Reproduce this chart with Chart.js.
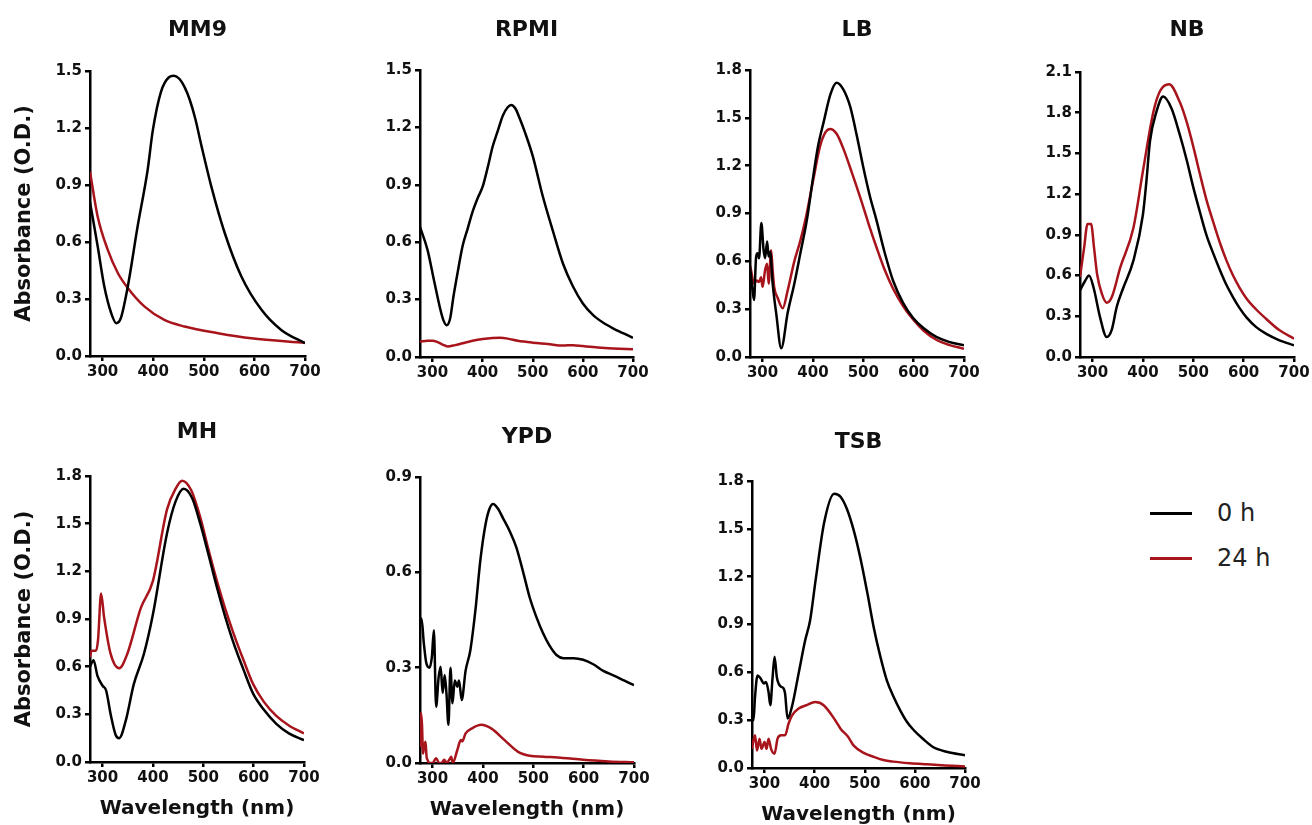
<!DOCTYPE html>
<html>
<head>
<meta charset="utf-8">
<script src="https://cdn.jsdelivr.net/npm/chart.js@4.4.1/dist/chart.umd.min.js"></script>
<style>
  html, body { margin: 0; padding: 0; background: #fff; overflow: hidden; width: 1312px; height: 825px; }
  .panel { position: absolute; }
  .lg { position: absolute; left: 1150px; height: 30px; display: flex; align-items: center;
        font: 24px "DejaVu Sans", sans-serif; color: #222; }
  .lg span { display: inline-block; width: 42px; height: 3px; margin-right: 25px; }
</style>
</head>
<body>
<div class="lg" style="top:498px"><span style="background:#000"></span>0 h</div>
<div class="lg" style="top:543px"><span style="background:#a8141c"></span>24 h</div>
<script>
/* series */
const seriesNames = ["0 h", "24 h"];
const seriesColors = ["#000000", "#a8141c"];
const xTicks = [300, 400, 500, 600, 700];

/* MM9 */
const mm9Wl0 = [275,290,303,317,327,336,350,369,389,399,415,431,441,452,462,472,483,495,515,541,574,614,653,700];
const mm9Abs0 = [0.81,0.58,0.37,0.225,0.173,0.2,0.37,0.68,0.98,1.185,1.388,1.467,1.475,1.458,1.415,1.35,1.25,1.11,0.89,0.65,0.42,0.243,0.137,0.067];
const mm9Wl24 = [275,290,310,330,350,383,422,462,528,594,700];
const mm9Abs24 = [0.97,0.736,0.56,0.437,0.357,0.26,0.19,0.155,0.12,0.093,0.07];

/* RPMI */
const rpmiWl0 = [275,290,303,316,322,328,335,342,350,360,370,380,390,400,410,420,430,440,450,457,465,475,485,500,520,540,560,580,600,620,640,660,680,700];
const rpmiAbs0 = [0.68,0.56,0.4,0.244,0.19,0.166,0.2,0.32,0.44,0.58,0.67,0.76,0.83,0.89,0.99,1.1,1.18,1.26,1.305,1.317,1.3,1.24,1.17,1.05,0.84,0.66,0.49,0.37,0.28,0.22,0.18,0.15,0.125,0.1];
const rpmiWl24 = [275,290,300,310,320,330,345,360,380,400,420,435,450,470,500,530,560,580,600,630,660,700];
const rpmiAbs24 = [0.08,0.085,0.085,0.078,0.065,0.055,0.062,0.072,0.085,0.094,0.099,0.1,0.096,0.085,0.075,0.068,0.06,0.062,0.057,0.05,0.045,0.04];

/* LB */
const lbWl0 = [275,280,283,287,290,293,297.5,302,305,309,312,315,320,327,337,350,363,375,388,400,410,421,435,447,460,474,487,500,513,526,542,559,579,599,620,645,670,700];
const lbAbs0 = [0.57,0.42,0.357,0.623,0.65,0.62,0.84,0.67,0.62,0.725,0.63,0.66,0.46,0.275,0.055,0.28,0.46,0.65,0.86,1.12,1.32,1.47,1.65,1.72,1.68,1.57,1.39,1.19,1.01,0.86,0.66,0.48,0.34,0.245,0.18,0.126,0.095,0.073];
const lbWl24 = [275,277,283,288,293,297,300,305,309,312,317,320,323,330,340,350,363,375,385,400,414,425,434,447,460,478,495,510,526,542,559,579,599,620,645,670,700];
const lbAbs24 = [0.57,0.545,0.46,0.48,0.47,0.5,0.44,0.545,0.585,0.46,0.67,0.545,0.44,0.37,0.305,0.42,0.6,0.73,0.86,1.1,1.32,1.41,1.43,1.40,1.31,1.15,0.99,0.84,0.69,0.55,0.43,0.32,0.235,0.165,0.108,0.076,0.052];

/* NB */
const nbWl0 = [275,285,293,302,315,328,338,348,361,381,400,407,414,427,440,457,473,487,500,513,526,540,553,566,579,592,606,625,645,670,700];
const nbAbs0 = [0.49,0.56,0.6,0.51,0.29,0.147,0.2,0.37,0.51,0.71,1.05,1.3,1.59,1.81,1.92,1.83,1.64,1.45,1.25,1.07,0.90,0.76,0.64,0.53,0.44,0.36,0.29,0.22,0.17,0.125,0.086];
const nbWl24 = [275,283,290,297,303,309,318,328,338,355,381,400,421,434,452,473,487,500,513,526,540,553,566,579,592,606,625,645,670,700];
const nbAbs24 = [0.59,0.8,0.98,0.98,0.8,0.61,0.47,0.40,0.44,0.66,0.95,1.37,1.81,1.96,2.01,1.88,1.73,1.55,1.35,1.16,0.99,0.84,0.71,0.60,0.51,0.43,0.35,0.28,0.2,0.135];

/* MH */
const mhWl0 = [275,282,290,300,307,316,326,333,346,362,382,400,428,445,461,478,494,510,527,543,560,580,599,620,645,670,700];
const mhAbs0 = [0.6,0.64,0.54,0.48,0.45,0.30,0.17,0.15,0.26,0.49,0.68,0.93,1.44,1.64,1.72,1.66,1.50,1.31,1.10,0.92,0.75,0.58,0.43,0.33,0.24,0.18,0.137];
const mhWl24 = [275,278,287,291,297,303,316,333,349,376,400,428,445,458,476,494,510,527,543,560,580,599,620,645,670,700];
const mhAbs24 = [0.66,0.70,0.70,0.77,1.06,0.91,0.68,0.59,0.68,0.97,1.14,1.59,1.72,1.77,1.71,1.54,1.34,1.14,0.97,0.81,0.64,0.49,0.38,0.29,0.23,0.18];

/* YPD */
const ypdWl0 = [275,278,282.6,287.6,294,298.6,302.6,307,312,316,320,324,327.5,331.5,335.5,339.5,344,349,352.5,357.8,365.5,375,385,395,405,413,420,430,440,453,466,480,493,506,519,532,546,560,580,599,620,639,660,680,700];
const ypdAbs0 = [0.45,0.455,0.377,0.314,0.30,0.334,0.418,0.177,0.27,0.303,0.22,0.277,0.22,0.12,0.30,0.188,0.26,0.24,0.26,0.198,0.29,0.355,0.48,0.64,0.75,0.80,0.815,0.80,0.77,0.73,0.68,0.60,0.52,0.46,0.41,0.37,0.34,0.33,0.33,0.325,0.31,0.29,0.275,0.26,0.245];
const ypdWl24 = [275,277,279,281,283,286,288,290,293,300,307,313,318,323,328,333,337,340,349,356,359,365.5,378.5,396.5,417,443,469,493,520,559,599,650,700];
const ypdAbs24 = [0.05,0.157,0.12,0.03,0.05,0.067,0.02,0.01,0.0,0.0,0.015,0.0,0.0,0.01,0.0,0.01,0.02,0.0,0.04,0.072,0.068,0.093,0.109,0.12,0.108,0.072,0.036,0.023,0.02,0.016,0.01,0.005,0.002];

/* TSB */
const tsbWl0 = [275,278,281,286,292.5,298.7,303,308,311.5,316,320,324.5,328,333,338,341,346,354.6,368,381,391,402,419,439,452,465,478,491,505,518,531,544,557,571,584,597,617,637,665,700];
const tsbAbs0 = [0.3,0.3,0.445,0.58,0.56,0.53,0.54,0.477,0.394,0.565,0.697,0.571,0.53,0.51,0.50,0.467,0.31,0.383,0.593,0.80,0.927,1.18,1.54,1.72,1.70,1.62,1.49,1.32,1.10,0.88,0.70,0.55,0.45,0.36,0.29,0.24,0.18,0.13,0.10,0.08];
const tsbWl24 = [275,276,281,285,290,294,300,304,308,313,320,326,333,341,348,355,368,384,401,418,441,452,467,478,498,518,537,557,590,624,660,700];
const tsbAbs24 = [0.12,0.142,0.205,0.11,0.184,0.12,0.163,0.12,0.184,0.12,0.09,0.184,0.205,0.205,0.279,0.33,0.373,0.394,0.414,0.394,0.30,0.245,0.195,0.14,0.095,0.07,0.05,0.04,0.03,0.023,0.016,0.01];

const FONT = "'DejaVu Sans', sans-serif";

// plot-area rectangles in page pixels
const panels = [
  { title: "MM9",  l: 90,  r: 305, t: 71,  b: 356, ty: 30,  yMax: 1.5, yTitle: true,  xTitle: false, d: [mm9Wl0, mm9Abs0, mm9Wl24, mm9Abs24] },
  { title: "RPMI", l: 420, r: 633, t: 70,  b: 357, ty: 30,  yMax: 1.5, yTitle: false, xTitle: false, d: [rpmiWl0, rpmiAbs0, rpmiWl24, rpmiAbs24] },
  { title: "LB",   l: 750, r: 964, t: 70,  b: 357, ty: 30,  yMax: 1.8, yTitle: false, xTitle: false, d: [lbWl0, lbAbs0, lbWl24, lbAbs24] },
  { title: "NB",   l: 1080, r: 1294, t: 72, b: 357, ty: 30, yMax: 2.1, yTitle: false, xTitle: false, d: [nbWl0, nbAbs0, nbWl24, nbAbs24] },
  { title: "MH",   l: 90,  r: 304, t: 476, b: 762, ty: 432, yMax: 1.8, yTitle: true,  xTitle: true, d: [mhWl0, mhAbs0, mhWl24, mhAbs24] },
  { title: "YPD",  l: 420, r: 634, t: 477, b: 763, ty: 437, yMax: 0.9, yTitle: false, xTitle: true, d: [ypdWl0, ypdAbs0, ypdWl24, ypdAbs24] },
  { title: "TSB",  l: 752, r: 965, t: 481, b: 768, ty: 442, yMax: 1.8, yTitle: false, xTitle: true, d: [tsbWl0, tsbAbs0, tsbWl24, tsbAbs24] },
];

function pts(xs, ys) { return xs.map((x, i) => ({ x: x, y: ys[i] })); }

panels.forEach(p => {
  const cLeft = p.l - 90;
  const cTop = p.ty - 25;
  const xH = p.xTitle ? 61 : 32;
  const wrap = document.createElement("div");
  wrap.className = "panel";
  wrap.style.left = cLeft + "px";
  wrap.style.top = cTop + "px";
  wrap.style.width = (p.r - cLeft + 25) + "px";
  wrap.style.height = (p.b - cTop + xH) + "px";
  const cv = document.createElement("canvas");
  wrap.appendChild(cv);
  document.body.appendChild(wrap);

  const axisLine = { display: true, color: "#000", width: 2.5 };
  const tickMarks = { display: true, drawOnChartArea: false, drawTicks: true, tickLength: 5, color: "#000", lineWidth: 2.5 };

  new Chart(cv, {
    type: "line",
    data: {
      datasets: [0, 1].map(k => ({
        label: seriesNames[k],
        data: pts(p.d[k * 2], p.d[k * 2 + 1]),
        borderColor: seriesColors[k],
        backgroundColor: seriesColors[k],
        borderWidth: 2.5,
        pointRadius: 0,
        cubicInterpolationMode: "monotone",
      })),
    },
    options: {
      responsive: true, maintainAspectRatio: false, animation: false,
      layout: { padding: { top: 0, left: 0, right: 25, bottom: 0 } },
      plugins: {
        legend: { display: false },
        tooltip: { enabled: false },
        title: {
          display: true, text: p.title, color: "#111", fullSize: false,
          font: { family: FONT, size: 22, weight: "bold" },
          padding: { top: 11.8, bottom: p.t - cTop - 26.4 - 11.8 },
        },
      },
      scales: {
        x: {
          type: "linear", min: 275, max: 700,
          border: axisLine, grid: tickMarks,
          afterBuildTicks: s => { s.ticks = xTicks.map(v => ({ value: v })); },
          ticks: { color: "#111", padding: 2, maxRotation: 0, autoSkip: false,
                   font: { family: FONT, size: 15, weight: "bold" } },
          title: { display: p.xTitle, text: "Wavelength (nm)", color: "#111",
                   font: { family: FONT, size: 20, weight: "bold" }, padding: { top: 0, bottom: 2 } },
          afterFit: s => { s.height = xH; },
        },
        y: {
          min: 0, max: p.yMax,
          border: axisLine, grid: tickMarks,
          ticks: { stepSize: 0.3, color: "#111", padding: 3,
                   font: { family: FONT, size: 15, weight: "bold" },
                   callback: v => Number(v).toFixed(1) },
          title: { display: p.yTitle, text: "Absorbance (O.D.)", color: "#111",
                   font: { family: FONT, size: 21, weight: "bold" }, padding: { top: 12, bottom: 0 } },
          afterFit: s => { s.width = 90; },
        },
      },
    },
  });
});
</script>
</body>
</html>
